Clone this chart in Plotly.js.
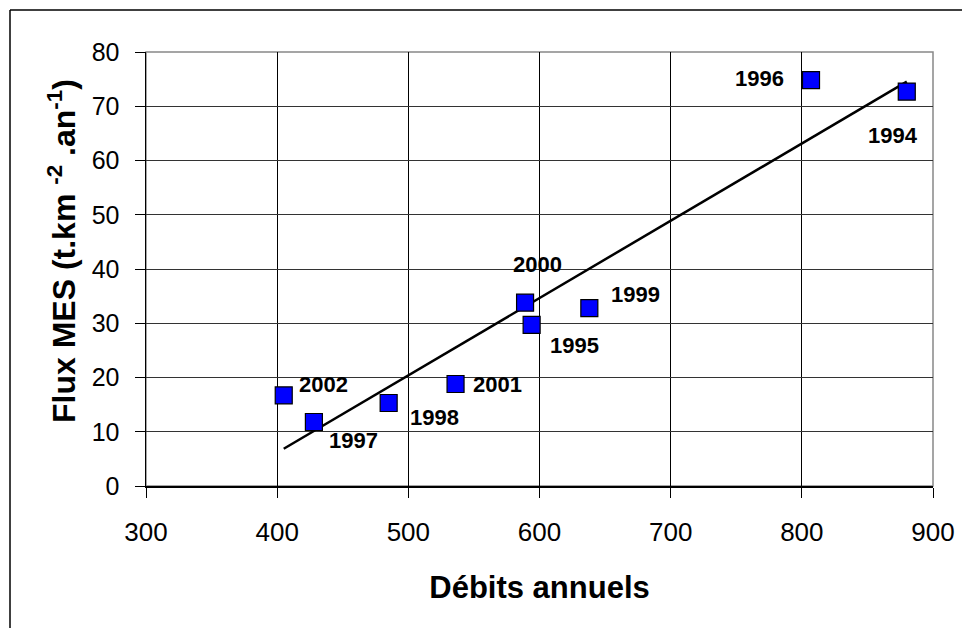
<!DOCTYPE html>
<html>
<head>
<meta charset="utf-8">
<script src="https://cdn.plot.ly/plotly-3.0.1.min.js"></script>
<style>html,body{margin:0;padding:0;background:#fff;}#chart{width:962px;height:628px;}</style>
</head>
<body>
<div id="chart"></div>
<script>
// Data
const years = ["1994", "1995", "1996", "1997", "1998", "1999", "2000", "2001", "2002"];
const debits = [880, 594, 807, 428, 485, 638, 589, 536, 405];
const fluxMES = [72.7, 29.7, 74.8, 11.8, 15.3, 32.8, 33.8, 18.8, 16.7];
const xTicks = [300, 400, 500, 600, 700, 800, 900];
const yTicks = [0, 10, 20, 30, 40, 50, 60, 70, 80];
const xTitle = "Débits annuels";
const yTitle = "Flux MES (t.km <sup>-2</sup> .an<sup>-1</sup>)";

// Label placement (pixel offsets from the marker), style only
const labelShift = {
  "1994": [-14, 44], "1995": [43, 21], "1996": [-52, -2], "1997": [40, 19],
  "1998": [46, 14], "1999": [46, -14], "2000": [12, -38], "2001": [42, 0], "2002": [40, -11]
};

// Linear least-squares trendline (as in the spreadsheet chart)
const n = debits.length;
const mx = debits.reduce((a, b) => a + b, 0) / n;
const my = fluxMES.reduce((a, b) => a + b, 0) / n;
let sxy = 0, sxx = 0;
for (let i = 0; i < n; i++) { sxy += (debits[i] - mx) * (fluxMES[i] - my); sxx += (debits[i] - mx) ** 2; }
const slope = sxy / sxx, intercept = my - slope * mx;
const xmin = Math.min(...debits), xmax = Math.max(...debits);
const trendX = [xmin, xmax];
const trendY = trendX.map(v => intercept + slope * v);

const FONT = "Liberation Sans, Arial, Helvetica, sans-serif";

const traces = [
  {
    x: trendX, y: trendY, mode: "lines", type: "scatter",
    line: {color: "#000", width: 2.5}, hoverinfo: "skip"
  },
  {
    x: debits, y: fluxMES, mode: "markers", type: "scatter",
    marker: {symbol: "square", size: 17, color: "#0000FF", line: {color: "#000", width: 1.2}},
    text: years
  }
];

const annotations = years.map((yr, i) => ({
  x: debits[i], y: fluxMES[i], xref: "x", yref: "y",
  text: yr, showarrow: false,
  xshift: labelShift[yr][0], yshift: -labelShift[yr][1],
  font: {family: FONT, size: 22, color: "#000", weight: "bold"}
}));
annotations.push({
  xref: "paper", yref: "paper", x: (62 - 146) / 787, y: (486 - 251) / 434,
  xanchor: "center", yanchor: "middle", textangle: -90, showarrow: false,
  text: yTitle, font: {family: FONT, size: 32, color: "#000", weight: "bold"}
});

const layout = {
  width: 962, height: 628,
  margin: {l: 146, r: 29, t: 52, b: 142},
  paper_bgcolor: "#fff", plot_bgcolor: "#fff",
  showlegend: false,
  font: {family: FONT, color: "#000"},
  xaxis: {
    range: [300, 900], tickvals: xTicks, ticktext: xTicks.map(String),
    showgrid: true, gridcolor: "#000", gridwidth: 1,
    showline: true, linecolor: "#000", linewidth: 1.5,
    ticks: "outside", ticklen: 10, tickcolor: "#000", tickwidth: 1,
    zeroline: false, ticklabelstandoff: 12,
    tickfont: {family: FONT, size: 26, color: "#000"},
    title: {text: xTitle, font: {family: FONT, size: 31, color: "#000", weight: "bold"}, standoff: 30},
    automargin: false
  },
  yaxis: {
    range: [0, 80], tickvals: yTicks, ticktext: yTicks.map(String),
    showgrid: true, gridcolor: "#333", gridwidth: 1,
    showline: true, linecolor: "#000", linewidth: 1.5,
    ticks: "outside", ticklen: 10, tickcolor: "#000", tickwidth: 1,
    zeroline: false, ticklabelstandoff: 10,
    tickfont: {family: FONT, size: 25, color: "#000"},
    automargin: false
  },
  shapes: [
    {type: "rect", xref: "paper", yref: "paper", x0: 0, x1: 1, y0: 0, y1: 1,
     line: {color: "#888", width: 1.5}, layer: "below"},
    {type: "line", xref: "paper", yref: "paper", x0: -136/787, x1: 1.2, y0: 1 + 42/434, y1: 1 + 42/434,
     line: {color: "#000", width: 1.5}},
    {type: "line", xref: "paper", yref: "paper", x0: -136/787, x1: -136/787, y0: 1 + 42/434, y1: -1,
     line: {color: "#000", width: 1.5}}
  ],
  annotations: annotations
};

Plotly.newPlot("chart", traces, layout, {displayModeBar: false, staticPlot: true});
</script>
</body>
</html>
